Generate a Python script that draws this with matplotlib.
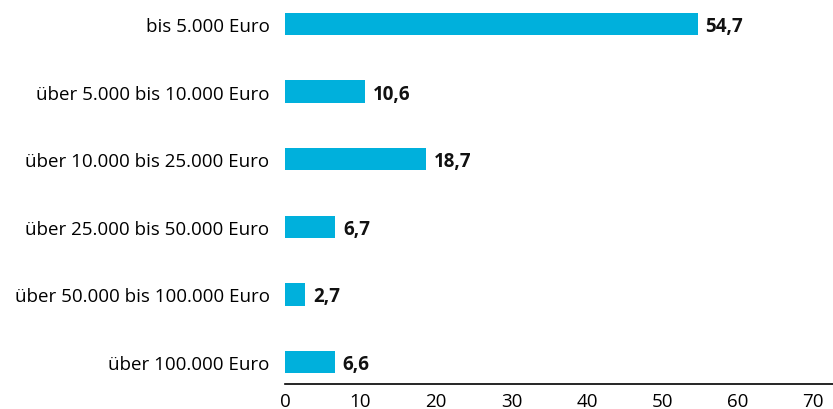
import matplotlib
matplotlib.use('Agg')
import matplotlib.pyplot as plt

plt.rcParams['font.family']=['Open Sans','DejaVu Sans']

categories=['bis 5.000 Euro','über 5.000 bis 10.000 Euro','über 10.000 bis 25.000 Euro',
            'über 25.000 bis 50.000 Euro','über 50.000 bis 100.000 Euro','über 100.000 Euro']
values=[54.7,10.6,18.7,6.7,2.7,6.6]
ticks=[0,10,20,30,40,50,60,70]

fig=plt.figure(figsize=(8.33,4.10),dpi=100)
ax=fig.add_axes([0.342,0.061,0.658,0.939])

ypos=list(range(len(categories)))
ax.barh(ypos,values,height=0.33,color='#00b0dc')
for y,v in zip(ypos,values):
    ax.text(v+1.0,y+0.03,'{:.1f}'.format(v).replace('.',','),va='center',ha='left',
            fontsize=13.5,fontweight='bold',color='#111111')

ax.set_ylim(5.325,-0.37)
ax.set_xlim(0,72.6)
ax.set_yticks(ypos)
ax.set_yticklabels(categories,fontsize=13.5)
ax.set_xticks(ticks)
ax.set_xticklabels([str(t) for t in ticks],fontsize=13.5)
ax.tick_params(axis='y',length=0,pad=11)
ax.tick_params(axis='x',length=0,pad=6)
for s in ['top','right','left']:
    ax.spines[s].set_visible(False)
ax.spines['bottom'].set_linewidth(1.2)

fig.savefig('out.png',dpi=100)
